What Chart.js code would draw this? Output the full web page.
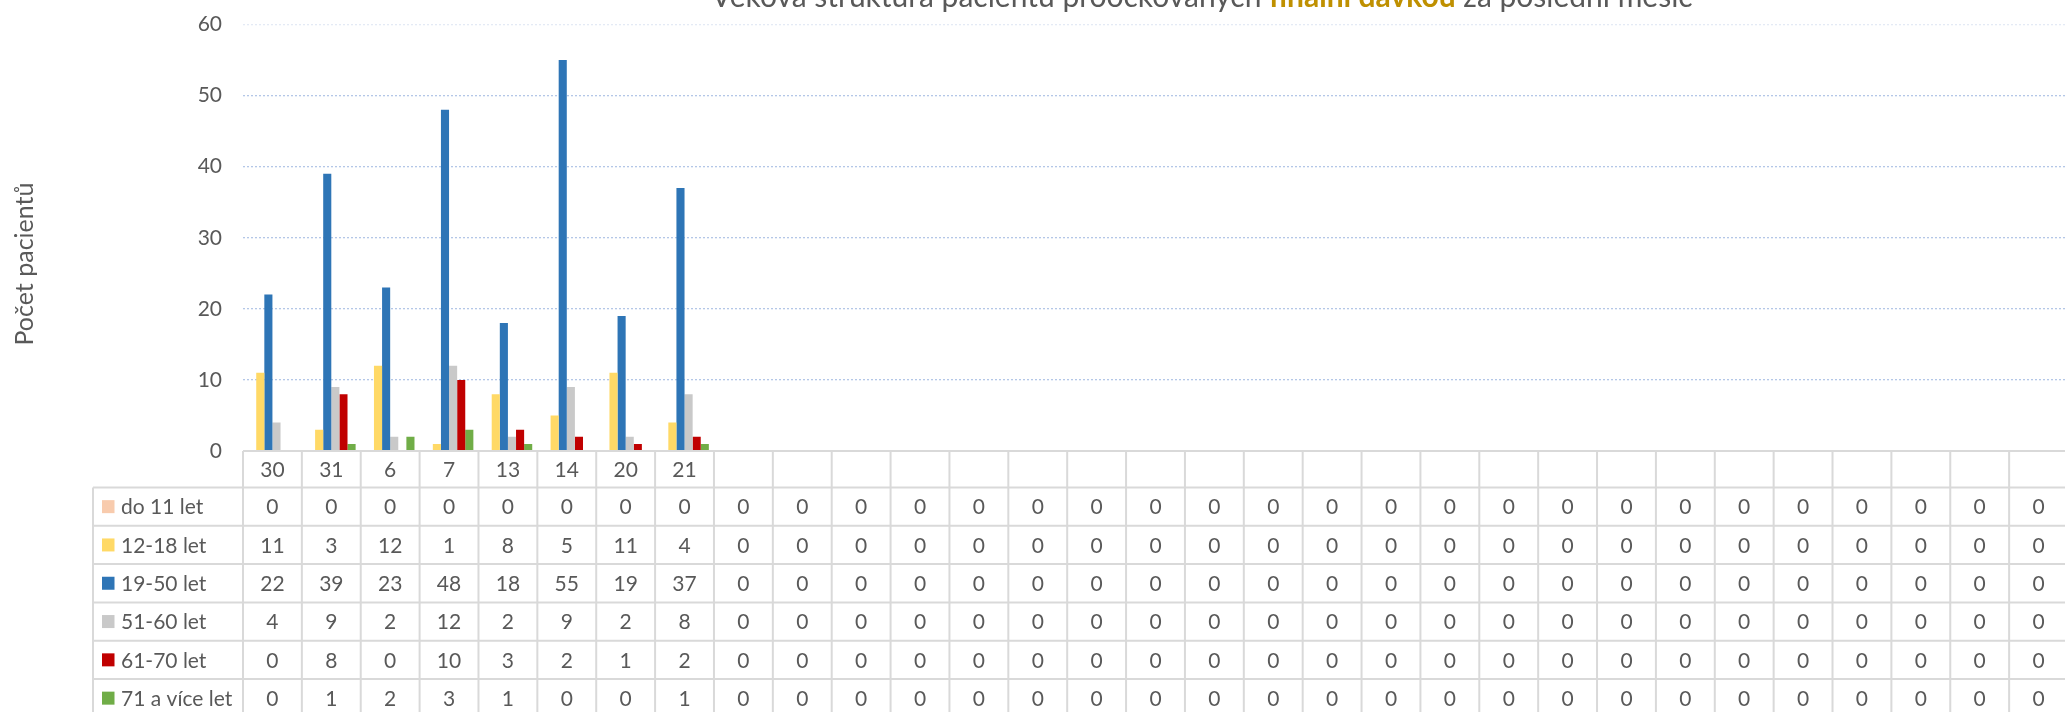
<!DOCTYPE html>
<html lang="cs">
<head>
  <meta charset="UTF-8" />
  <title>Věková struktura pacientů</title>
  <script src="https://cdn.jsdelivr.net/npm/chart.js"></script>
  <style>
    html, body {
      margin: 0;
      padding: 0;
      background: white;
      overflow: hidden;
    }
    #wrap {
      width: 2065px;
      height: 712px;
      overflow: hidden;
    }
  </style>
</head>
<body>
  <div id="wrap">
    <canvas id="chart" width="2068" height="712"></canvas>
  </div>

  <script>
    const labels = ['30', '31', '6', '7', '13', '14', '20', '21',
      '', '', '', '', '', '', '', '', '', '', '', '', '', '', '', '', '', '', '', '', '', '', ''];

    const seriesNames = ['do 11 let', '12-18 let', '19-50 let', '51-60 let', '61-70 let', '71 a více let'];
    const seriesColors = ['#F8CBAD', '#FFD966', '#2E75B6', '#C9C9C9', '#C00000', '#70AD47'];

    const do11 = [0, 0, 0, 0, 0, 0, 0, 0, 0, 0, 0, 0, 0, 0, 0, 0, 0, 0, 0, 0, 0, 0, 0, 0, 0, 0, 0, 0, 0, 0, 0];
    const age1218 = [11, 3, 12, 1, 8, 5, 11, 4, 0, 0, 0, 0, 0, 0, 0, 0, 0, 0, 0, 0, 0, 0, 0, 0, 0, 0, 0, 0, 0, 0, 0];
    const age1950 = [22, 39, 23, 48, 18, 55, 19, 37, 0, 0, 0, 0, 0, 0, 0, 0, 0, 0, 0, 0, 0, 0, 0, 0, 0, 0, 0, 0, 0, 0, 0];
    const age5160 = [4, 9, 2, 12, 2, 9, 2, 8, 0, 0, 0, 0, 0, 0, 0, 0, 0, 0, 0, 0, 0, 0, 0, 0, 0, 0, 0, 0, 0, 0, 0];
    const age6170 = [0, 8, 0, 10, 3, 2, 1, 2, 0, 0, 0, 0, 0, 0, 0, 0, 0, 0, 0, 0, 0, 0, 0, 0, 0, 0, 0, 0, 0, 0, 0];
    const age71 = [0, 1, 2, 3, 1, 0, 0, 1, 0, 0, 0, 0, 0, 0, 0, 0, 0, 0, 0, 0, 0, 0, 0, 0, 0, 0, 0, 0, 0, 0, 0];

    const yTicks = [0, 10, 20, 30, 40, 50, 60];

    const titleParts = [
      { text: 'Věková struktura pacientů proočkovaných ', bold: false, color: '#595959' },
      { text: 'finální dávkou', bold: true, color: '#BF9000' },
      { text: ' za poslední měsíc', bold: false, color: '#595959' }
    ];
    const yTitle = 'Počet pacientů';

    const allSeries = [do11, age1218, age1950, age5160, age6170, age71];

    const FONT = 'Lato, "Open Sans", sans-serif';
    const TEXT = '#595959';
    const LINE = '#D9D9D9';

    // data table + titles drawn under the plot, using the x scale positions
    const tablePlugin = {
      id: 'dataTable',
      afterDraw(chart) {
        const ctx = chart.ctx;
        const xs = chart.scales.x;
        const area = chart.chartArea;
        const n = labels.length;
        const colW = (area.right - area.left) / n;
        const top = area.bottom;
        const headH = 36.5;
        const rowH = 38.3;
        const legLeft = 93;
        const bottom = chart.height + 10;

        ctx.save();
        ctx.strokeStyle = LINE;
        ctx.lineWidth = 2;

        // header row top line
        ctx.beginPath();
        ctx.moveTo(area.left, top);
        ctx.lineTo(area.right, top);
        // row lines
        for (let r = 0; r <= allSeries.length; r++) {
          const y = top + headH + r * rowH;
          ctx.moveTo(legLeft, y);
          ctx.lineTo(area.right, y);
        }
        // vertical lines
        ctx.moveTo(legLeft, top + headH);
        ctx.lineTo(legLeft, bottom);
        for (let i = 0; i <= n; i++) {
          const x = area.left + i * colW;
          ctx.moveTo(x, top);
          ctx.lineTo(x, bottom);
        }
        ctx.stroke();

        ctx.fillStyle = TEXT;
        ctx.font = '21px ' + FONT;
        ctx.textAlign = 'center';
        ctx.textBaseline = 'middle';
        for (let i = 0; i < n; i++) {
          const cx = xs.getPixelForValue(i);
          ctx.fillText(labels[i], cx, top + headH / 2 + 1);
          allSeries.forEach((s, r) => {
            ctx.fillText(String(s[i]), cx, top + headH + r * rowH + rowH / 2 + 1);
          });
        }

        // legend keys
        ctx.textAlign = 'left';
        seriesNames.forEach((name, r) => {
          const cy = top + headH + r * rowH + rowH / 2;
          ctx.fillStyle = seriesColors[r];
          ctx.fillRect(102, cy - 6.5, 12.5, 13);
          ctx.fillStyle = TEXT;
          ctx.fillText(name, 121, cy + 1);
        });

        // y axis title
        ctx.save();
        ctx.translate(25, 264);
        ctx.rotate(-Math.PI / 2);
        ctx.textAlign = 'center';
        ctx.font = '25px ' + FONT;
        ctx.fillText(yTitle, 0, 0);
        ctx.restore();

        // chart title, partly cut off at the top
        ctx.textAlign = 'left';
        ctx.textBaseline = 'alphabetic';
        let total = 0;
        titleParts.forEach(p => {
          ctx.font = (p.bold ? 'bold ' : '') + '30px ' + FONT;
          p.w = ctx.measureText(p.text).width;
          total += p.w;
        });
        let x = 1202 - total / 2;
        titleParts.forEach(p => {
          ctx.font = (p.bold ? 'bold ' : '') + '30px ' + FONT;
          ctx.fillStyle = p.color;
          ctx.fillText(p.text, x, 7);
          x += p.w;
        });
        ctx.restore();
      }
    };

    new Chart(document.getElementById('chart'), {
      type: 'bar',
      data: {
        labels: labels,
        datasets: seriesNames.map((name, i) => ({
          label: name,
          data: allSeries[i],
          backgroundColor: seriesColors[i],
          borderWidth: 0,
          categoryPercentage: 0.826,
          barPercentage: 1.0
        }))
      },
      options: {
        responsive: false,
        devicePixelRatio: 1,
        animation: false,
        layout: { padding: { top: 24.5, bottom: 261, left: 0, right: 0 } },
        plugins: {
          legend: { display: false },
          title: { display: false },
          tooltip: { enabled: false }
        },
        scales: {
          x: { display: false },
          y: {
            min: 0,
            max: 60,
            afterFit(scale) {
              scale.width = 243;
              scale.paddingTop = 0;
              scale.paddingBottom = 0;
            },
            afterBuildTicks(scale) { scale.ticks = yTicks.map(v => ({ value: v })); },
            ticks: {
              padding: 21,
              color: TEXT,
              font: { family: FONT, size: 21 }
            },
            grid: {
              drawTicks: false,
              lineWidth: 1.3,
              color: c => c.tick && c.tick.value === 60 ? '#E4EAF5' : '#B4C7E7'
            },
            border: { display: false, dash: [2, 2] }
          }
        }
      },
      plugins: [tablePlugin]
    });
  </script>
</body>
</html>
